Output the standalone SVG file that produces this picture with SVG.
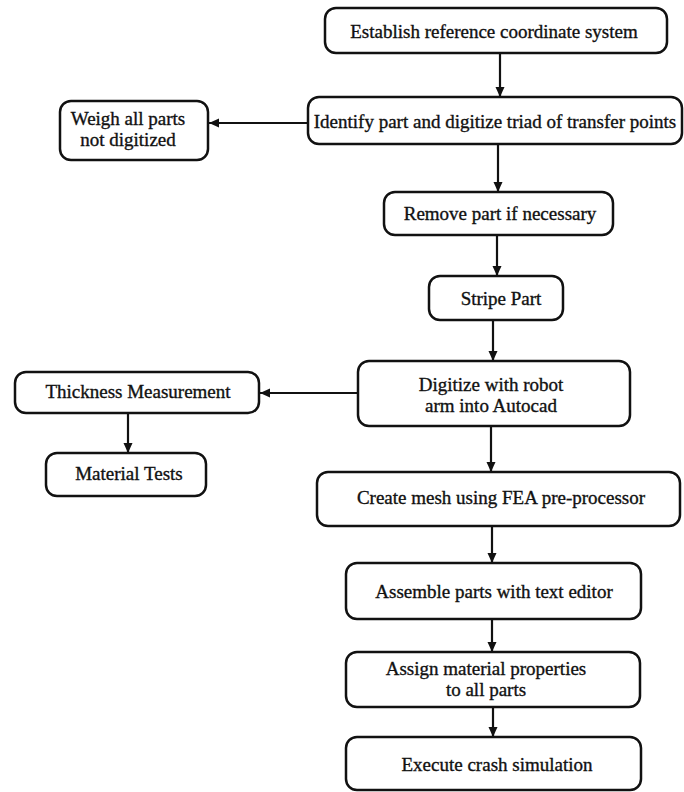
<svg xmlns="http://www.w3.org/2000/svg" width="684" height="792" viewBox="0 0 684 792">
<style>
.box{fill:#fff;stroke:#111;stroke-width:2.5}
.t{font-family:"Liberation Serif","Times New Roman",serif;font-size:19px;fill:#111;stroke:#111;stroke-width:0.35;text-anchor:middle}
.c{stroke:#111;stroke-width:2.2;fill:none;marker-end:url(#ah)}
</style>
<defs>
<marker id="ah" markerUnits="userSpaceOnUse" markerWidth="11" markerHeight="10" refX="10" refY="5" orient="auto">
<path d="M0,0.5 L10,5 L0,9.5 z" fill="#111"/>
</marker>
</defs>
<rect width="684" height="792" fill="#fff"/>
<g id="connectors">
<line class="c" x1="500" y1="54" x2="500" y2="97"/>
<line class="c" x1="308" y1="123" x2="209" y2="123"/>
<line class="c" x1="498" y1="145" x2="498" y2="192"/>
<line class="c" x1="497" y1="236" x2="497" y2="276"/>
<line class="c" x1="493" y1="321" x2="493" y2="361"/>
<line class="c" x1="358" y1="393" x2="260" y2="393"/>
<line class="c" x1="128" y1="414" x2="128" y2="453"/>
<line class="c" x1="491" y1="427" x2="491" y2="472"/>
<line class="c" x1="492" y1="527" x2="492" y2="563"/>
<line class="c" x1="492" y1="620" x2="492" y2="652"/>
<line class="c" x1="493" y1="708" x2="493" y2="737"/>
</g>
<g id="n1"><rect class="box" x="325" y="8" width="342" height="45" rx="11"/><text class="t" x="494" y="38">Establish reference coordinate system</text></g>
<g id="n2"><rect class="box" x="308" y="97" width="374" height="47" rx="11"/><text class="t" x="495" y="128">Identify part and digitize triad of transfer points</text></g>
<g id="n3"><rect class="box" x="60" y="101" width="148" height="59" rx="11"/><text class="t" x="128" y="125">Weigh all parts</text><text class="t" x="128" y="146">not digitized</text></g>
<g id="n4"><rect class="box" x="384" y="192" width="229" height="43" rx="11"/><text class="t" x="500" y="220">Remove part if necessary</text></g>
<g id="n5"><rect class="box" x="429" y="276" width="134" height="44" rx="11"/><text class="t" x="501" y="305">Stripe Part</text></g>
<g id="n6"><rect class="box" x="358" y="361" width="272" height="65" rx="11"/><text class="t" x="491" y="391">Digitize with robot</text><text class="t" x="491" y="412">arm into Autocad</text></g>
<g id="n7"><rect class="box" x="15" y="372" width="244" height="41" rx="11"/><text class="t" x="138" y="398">Thickness Measurement</text></g>
<g id="n8"><rect class="box" x="46" y="453" width="160" height="43" rx="11"/><text class="t" x="129" y="480">Material Tests</text></g>
<g id="n9"><rect class="box" x="317" y="472" width="363" height="54" rx="11"/><text class="t" x="501" y="504">Create mesh using FEA pre-processor</text></g>
<g id="n10"><rect class="box" x="346" y="563" width="295" height="56" rx="11"/><text class="t" x="494" y="598">Assemble parts with text editor</text></g>
<g id="n11"><rect class="box" x="346" y="652" width="294" height="55" rx="11"/><text class="t" x="486" y="675">Assign material properties</text><text class="t" x="486" y="696">to all parts</text></g>
<g id="n12"><rect class="box" x="346" y="737" width="295" height="53" rx="11"/><text class="t" x="497" y="771">Execute crash simulation</text></g>
</svg>
